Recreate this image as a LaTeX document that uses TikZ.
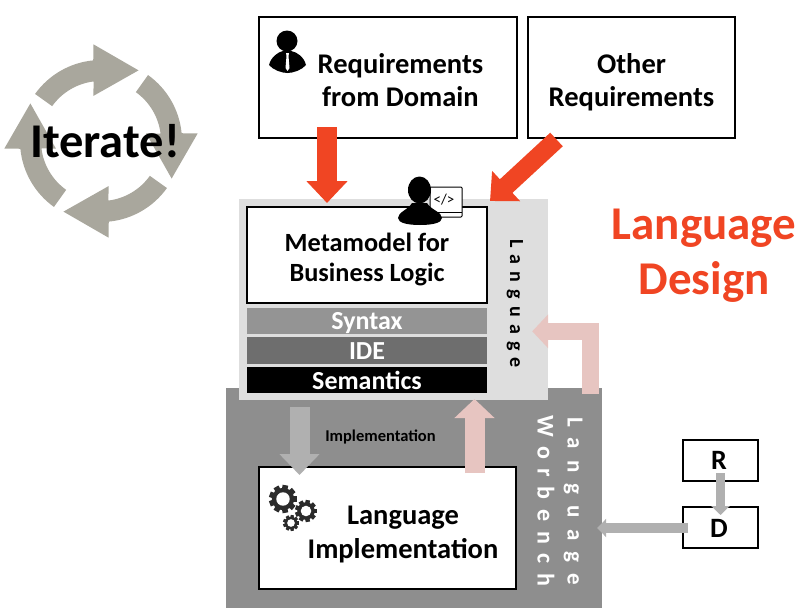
\documentclass[tikz,border=0pt]{standalone}
\usepackage{fontspec}
\setmainfont{Carlito}
\usepackage{tikz}
\usetikzlibrary{arrows.meta, positioning}
\definecolor{cycgrey}{HTML}{A9A79D}
\definecolor{redarrow}{HTML}{F04523}
\definecolor{pinkarrow}{HTML}{E7C5C1}
\definecolor{greyarrow}{HTML}{B0B0B0}
\definecolor{benchgrey}{HTML}{8E8E8E}
\definecolor{langgrey}{HTML}{DEDEDE}
\definecolor{geardark}{HTML}{2B2B2B}
\newcommand{\gearicon}[3]{
    \begin{scope}[shift={(#1,#2)}]
        \foreach \a in {0,40,...,320}
            \fill[geardark,rotate=\a+10] (-0.2*#3,0) rectangle (0.2*#3,#3);
        \fill[geardark] (0,0) circle ({0.8*#3});
        \fill[white] (0,0) circle ({0.48*#3});
    \end{scope}
}
\begin{document}
\begin{tikzpicture}[x=1pt, y=-1pt,
    txtbig/.style 2 args={font=\bfseries\fontsize{#1}{#2}\selectfont, align=center, inner sep=0pt},
    sidetxt/.style 2 args={rotate=-90, inner sep=0pt, font=\bfseries\addfontfeature{LetterSpace=#2}\fontsize{#1}{#1}\selectfont},
    boxnode/.style={draw=black, line width=2.2pt, fill=white, inner sep=0pt, outer sep=0pt},
    barnode/.style={fill=#1, inner sep=0pt, outer sep=0pt, minimum width=240pt},
    bartxt/.style={text=white, inner sep=0pt, font=\bfseries\fontsize{26}{26}\selectfont},
    redline/.style={redarrow, line width=20pt, -{Triangle[length=22pt,width=40pt]}},
    pinkline/.style={pinkarrow, line width=20pt, -{Triangle[length=19pt,width=39pt]}},
    greyline/.style={greyarrow, line width=20pt, -{Triangle[length=21pt,width=39pt]}},
    thinline/.style={greyarrow, line width=9.5pt, -{Triangle[length=9pt,width=18pt]}}]
    \useasboundingbox (0,0) rectangle (800,613);

    \foreach \a in {0,90,180,270} {
        \begin{scope}[shift={(101,141)}, x=1pt, y=1pt, rotate=\a]
            \fill[cycgrey] (144.5:81) arc (144.5:95.5:81) -- (94.5:97) -- (62:80)
                -- (99.7:45.7) -- (97:60) arc (97:144.5:60) -- cycle;
        \end{scope}
    }
    \node[txtbig={48.5}{50}] (iterate) at (105,141) {Iterate!};

    \node[fill=benchgrey, minimum width=376pt, minimum height=220pt, inner sep=0pt] (bench) at (414,498) {};
    \node[fill=langgrey, minimum width=309pt, minimum height=201pt, inner sep=0pt] (lang) at (393.5,299.5) {};

    \node[boxnode, minimum width=258pt, minimum height=121pt] (domain) at (388,77.5) {};
    \node[boxnode, minimum width=207pt, minimum height=121pt] (other) at (631.5,77.5) {};
    \node[txtbig={28.5}{33}] (domaintxt) at (400.5,80) {Requirements\\from Domain};
    \node[txtbig={28.5}{33}] (othertxt) at (631.5,82.5) {Other\\Requirements};

    \node[boxnode, minimum width=240pt, minimum height=96pt] (meta) at (367,255) {};
    \node[txtbig={26.3}{30}] (metatxt) at (367,259.5) {Metamodel for\\Business Logic};
    \node[barnode=black!42, minimum height=26pt] (syntax) at (367,321) {};
    \node[barnode=black!57, minimum height=27pt] (ide) at (367,350.5) {};
    \node[barnode=black, minimum height=26pt] (sem) at (367,380) {};
    \node[bartxt, anchor=base] (syntaxtxt) at (367,329) {Syntax};
    \node[bartxt, anchor=base] (idetxt) at (367,359.5) {IDE};
    \node[bartxt, anchor=base] (semtxt) at (367,389) {Semantics};

    \node[boxnode, minimum width=257pt, minimum height=122pt] (impl) at (387.5,528) {};
    \node[txtbig={28.5}{34}] (impltxt) at (403,534) {Language\\Implementation};
    \node[font=\bfseries\fontsize{16.5}{16.5}\selectfont, inner sep=0pt] (impllabel) at (380.5,437) {Implementation};

    \node[boxnode, minimum width=75pt, minimum height=41pt] (rbox) at (720.5,460.5) {};
    \node[boxnode, minimum width=75pt, minimum height=41pt] (dbox) at (720.5,527.5) {};
    \node[txtbig={28}{30}] (rtxt) at (719,460.5) {R};
    \node[txtbig={28}{30}] (dtxt) at (719,528) {D};

    \node[sidetxt={20}{36}] (langtxt) at (515,303.5) {Language};
    \node[sidetxt={23}{48}, text=white] (langtxtb) at (573,501) {Language};
    \node[sidetxt={24}{40}, text=white] (worbench) at (546,501) {Worbench};

    \node[txtbig={47}{55}, text=redarrow] (design) at (704,256) {Language\\Design};

    \draw[redline] ([shift={(-61,-11)}]domain.south) -- ([shift={(-40,-4)}]meta.north);
    \draw[redline, line width=18.5pt] ([shift={(-75,122.5)}]other.north) -- ([shift={(123,-6)}]meta.north);
    \draw[greyline] ([shift={(-67.5,14)}]sem.south) -- ([shift={(-88,8)}]impl.north);
    \draw[pinkline] ([shift={(87,6)}]impl.north) -- ([shift={(107.5,6)}]sem.south);
    \draw[pinkline, line width=17pt, -{Triangle[length=16pt,width=33pt]}] ([shift={(42,-6.5)}]lang.south east)
        -- ([shift={(42,132.5)}]lang.north east) -- ([shift={(-16,132.5)}]lang.north east);
    \draw[thinline] ([shift={(0,-8)}]rbox.south) -- ([shift={(0,8)}]dbox.north);
    \draw[thinline] ([shift={(5,0.5)}]dbox.west) -- ([shift={(-5,0.5)}]bench.east |- dbox.west);

    \fill (287,41) circle (10.5);
    \fill (269,65) .. controls (271,57) and (278,52) .. (283,51) -- (291,51)
        .. controls (297,52) and (304,57) .. (306,65) .. controls (302,70) and (293,73) .. (287.5,73)
        .. controls (282,73) and (273,70) .. (269,65);
    \fill[white] (286,53) -- (289,53) -- (288.5,56) -- (289.5,68) -- (287.5,71) -- (285.5,68) -- (286.5,56) -- cycle;

    \draw[fill=white, line width=1pt, rounded corners=1pt] (430,187) rectangle (462,217);
    \draw[line width=1pt] (430,212) -- (462,212);
    \node[inner sep=0pt, font=\fontsize{15}{15}\selectfont] (code) at (444,200) {</>};
    \fill (419.5,190) ellipse (11.5 and 13.5);
    \fill (398,218) .. controls (398,212) and (408,210) .. (412,203) -- (427,203)
        .. controls (431,210) and (442,212) .. (442,218) .. controls (442,223) and (432,225) .. (420,225)
        .. controls (408,225) and (398,223) .. (398,218);

    \gearicon{283}{499}{14}
    \gearicon{306}{511}{11}
    \gearicon{291}{523}{8}
\end{tikzpicture}
\end{document}
